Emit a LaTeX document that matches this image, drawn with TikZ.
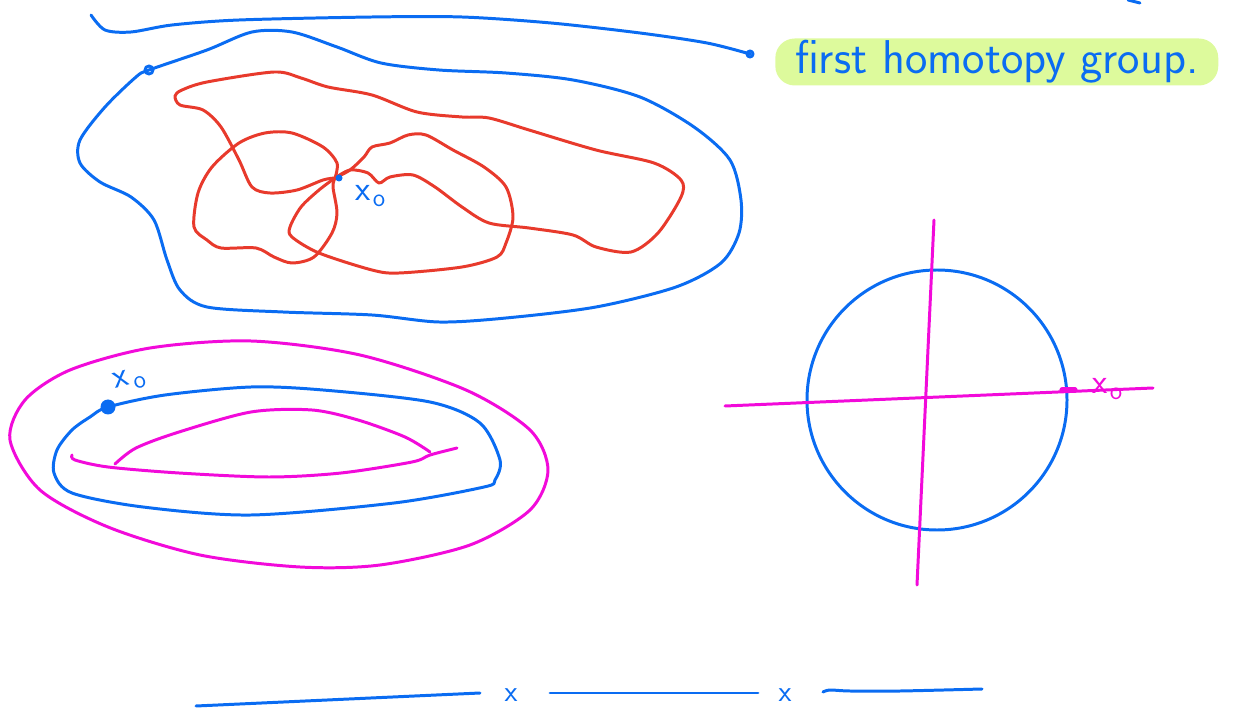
\documentclass[tikz,border=0pt]{standalone}
\usepackage{tikz}
\usetikzlibrary{calc}
\definecolor{inkblue}{HTML}{0A6CF2}
\definecolor{inkred}{HTML}{E83A2C}
\definecolor{inkpink}{HTML}{F20ADA}
\definecolor{marker}{HTML}{DDFA9C}
\tikzset{
  ink/.style={line width=1.7pt, line cap=round, line join=round},
  blueink/.style={ink, draw=inkblue},
  redink/.style={ink, draw=inkred},
  pinkink/.style={ink, draw=inkpink},
  hand/.style={font=\sffamily\fontsize{20}{24}\selectfont, inner sep=1pt}
}

\begin{document}
\begin{tikzpicture}[x=0.02cm, y=-0.02cm]
\useasboundingbox (0,0) rectangle (1234,709);

% label with marker
\node[fill=marker, rounded corners=11pt, text=inkblue, anchor=west,
      minimum width=8.86cm, minimum height=0.94cm, inner sep=0pt,
      font=\sffamily\fontsize{27}{30}\selectfont] (title) at (775,62) {first homotopy group.};
\coordinate (tip) at ($(title.west)+(-25,-8)$);
\draw[blueink] plot[smooth] coordinates {(91,15) (105,30) (131,32) (172,25) (239,20) (372,17)
  (462,17) (551,23) (640,33) (707,43) (tip)};
\draw[blueink] (tip) circle[radius=3];
\draw[blueink] (1128,0) -- (1140,3);

% outer loop
\draw[blueink] plot[smooth cycle] coordinates {(149,70) (207,50) (252,32) (292,32) (337,47)
  (381,63) (439,70) (506,73) (573,80) (640,97) (694,127) (730,160) (741,200) (739,233)
  (721,263) (676,287) (596,307) (506,318) (439,322) (372,315) (283,312) (207,307) (180,290)
  (167,260) (154,220) (131,197) (100,182) (80,163) (80,140) (105,107) (136,77)};
\draw[blueink] (149,70) circle[radius=4];

% three loops at the base point
\draw[redink] plot[smooth] coordinates {(335,178) (323,180) (297,190) (270,193) (252,187)
  (239,160) (221,127) (203,110) (180,105) (175,96) (182,90) (207,82) (274,72) (301,78)
  (328,87) (372,95) (417,112) (462,117) (489,118) (529,130) (596,150) (654,163) (681,180)
  (681,197) (658,233) (631,252) (596,247) (573,235) (529,228) (489,223) (462,207) (435,187)
  (413,175) (390,177) (379,183) (368,173) (350,170) (335,178)};
\draw[redink] plot[smooth] coordinates {(335,178) (337,163) (323,147) (292,133) (265,133)
  (239,143) (212,167) (198,193) (194,227) (207,240) (221,248) (256,248) (274,257) (292,263)
  (314,257) (332,233) (337,213) (333,187) (335,178)};
\draw[redink] plot[smooth] coordinates {(335,178) (319,190) (301,207) (290,227) (292,237)
  (319,253) (372,270) (399,273) (462,267) (497,257) (506,243) (513,217) (506,187) (484,167)
  (453,150) (426,135) (408,135) (390,143) (372,147) (364,157) (350,170) (335,178)};
\fill[inkblue] (339,178) circle[radius=3.5];
\node[hand, text=inkblue] (xa) at (371,196) {x\kern1pt$_\mathsf{o}$};

% loop on the lower left
\draw[pinkink] plot[smooth cycle] coordinates {(251,341) (360,355) (466,390) (530,430)
  (548,470) (530,510) (470,545) (380,565) (300,567) (200,555) (108,527) (40,490) (10,440)
  (25,400) (70,370) (150,348)};
\draw[blueink] plot[smooth cycle] coordinates {(108,407) (165,395) (251,387) (323,390)
  (430,402) (480,423) (500,460) (495,480) (484,487) (394,503) (251,515) (143,507) (72,493)
  (54,473) (57,450) (72,430) (90,417)};
\draw[pinkink] plot[smooth] coordinates {(72,455) (75,460) (108,467) (179,473) (269,477)
  (341,473) (412,462) (430,455) (457,448)};
\draw[pinkink] plot[smooth] coordinates {(115,464) (136,448) (179,432) (251,412) (312,410)
  (358,420) (405,437) (430,452)};
\fill[inkblue] (108,407) circle[radius=7.5];
\node[hand, text=inkblue, rotate=15] (xb) at (130,380) {x\kern2pt$_\mathsf{o}$};

% circle with axes
\draw[blueink] (937,400) circle[radius=130];
\draw[pinkink] (934,220) -- (917,585);
\draw[pinkink] (725,406) -- (1153,388);
\draw[pinkink, line width=3pt] (1062,390) -- (1075,390);
\node[hand, text=inkpink] (xc) at (1108,389) {x\kern1pt$_\mathsf{o}$};

% line with two points removed
\node[hand, text=inkblue, font=\sffamily\fontsize{17}{20}\selectfont] (p1) at (511,695) {x};
\node[hand, text=inkblue, font=\sffamily\fontsize{17}{20}\selectfont] (p2) at (785,695) {x};
\draw[blueink] (196,706) -- (480,693);
\draw[blueink] (550,693) -- (758,693);
\draw[blueink] plot[smooth] coordinates {(823,692) (830,690) (850,691) (900,691) (982,689)};
\end{tikzpicture}
\end{document}
